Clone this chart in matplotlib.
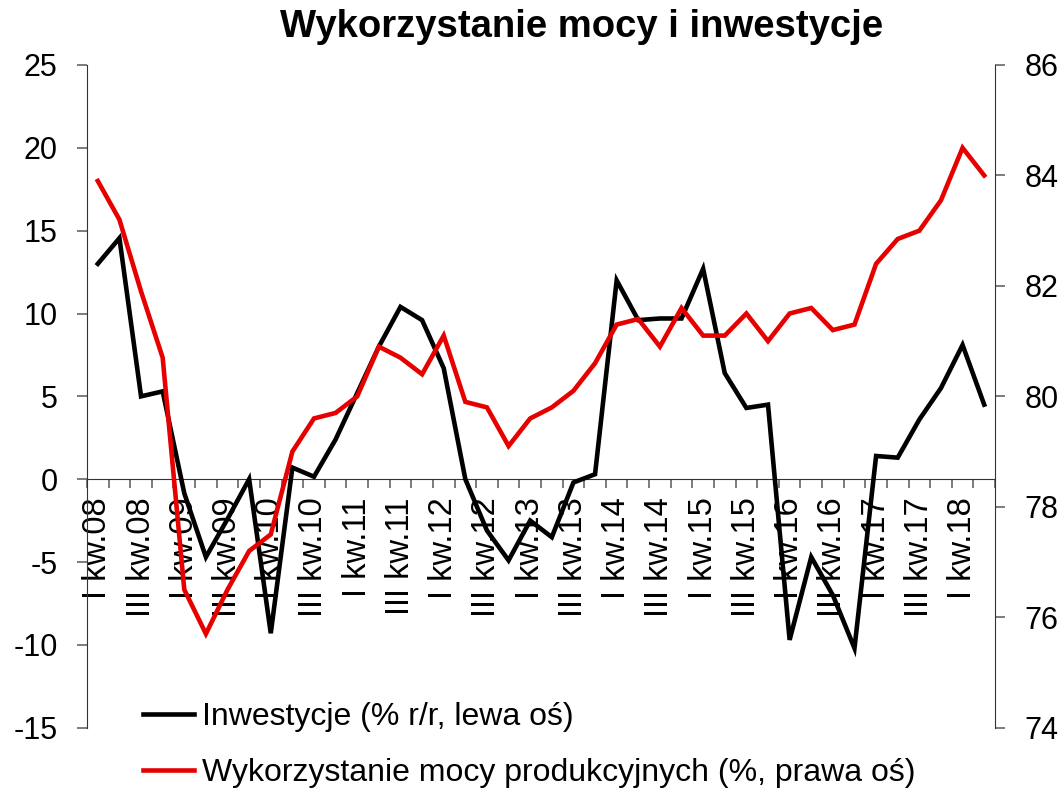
import matplotlib
matplotlib.use("Agg")
import matplotlib.pyplot as plt
import numpy as np

plt.rcParams['font.family'] = ['Liberation Sans', 'DejaVu Sans']

title = "Wykorzystanie mocy i inwestycje"

quarters = [
    "I kw.08", "II kw.08", "III kw.08", "IV kw.08",
    "I kw.09", "II kw.09", "III kw.09", "IV kw.09",
    "I kw.10", "II kw.10", "III kw.10", "IV kw.10",
    "I kw.11", "II kw.11", "III kw.11", "IV kw.11",
    "I kw.12", "II kw.12", "III kw.12", "IV kw.12",
    "I kw.13", "II kw.13", "III kw.13", "IV kw.13",
    "I kw.14", "II kw.14", "III kw.14", "IV kw.14",
    "I kw.15", "II kw.15", "III kw.15", "IV kw.15",
    "I kw.16", "II kw.16", "III kw.16", "IV kw.16",
    "I kw.17", "II kw.17", "III kw.17", "IV kw.17",
    "I kw.18", "II kw.18",
]

investment = [13.0, 14.55, 5.0, 5.3, -0.85, -4.7, -2.4, 0.0, -9.3, 0.7,
              0.15, 2.4, 5.2, 8.0, 10.4, 9.6, 6.7, 0.0, -3.1, -4.9,
              -2.5, -3.5, -0.2, 0.3, 12.0, 9.6, 9.7, 9.7, 12.7, 6.4,
              4.3, 4.5, -9.7, -4.7, -7.0, -10.2, 1.4, 1.3, 3.6, 5.5,
              8.1, 4.5]

capacity = [83.9, 83.2, 81.9, 80.7, 76.5, 75.7, 76.5, 77.2, 77.5, 79.0,
            79.6, 79.7, 80.0, 80.9, 80.7, 80.4, 81.1, 79.9, 79.8, 79.1,
            79.6, 79.8, 80.1, 80.6, 81.3, 81.4, 80.9, 81.6, 81.1, 81.1,
            81.5, 81.0, 81.5, 81.6, 81.2, 81.3, 82.4, 82.85, 83.0, 83.55,
            84.5, 84.0]

label_inv = "Inwestycje (% r/r, lewa oś)"
label_cap = "Wykorzystanie mocy produkcyjnych (%, prawa oś)"

left_ticks = [-15, -10, -5, 0, 5, 10, 15, 20, 25]
right_ticks = [74, 76, 78, 80, 82, 84, 86]

W, H = 1063, 791
fig = plt.figure(figsize=(W / 100, H / 100), dpi=100)
ax = fig.add_axes([87 / W, 1 - 727.7 / H, (995 - 87) / W, (727.7 - 65) / H])
ax2 = ax.twinx()

x = np.arange(len(quarters))
l1, = ax.plot(x, investment, color='black', lw=3.3, solid_joinstyle='miter', zorder=3)
l2, = ax2.plot(x, capacity, color='#E60000', lw=3.3, solid_joinstyle='miter', zorder=3)

ax.set_xlim(-0.5, len(quarters) - 0.5)
ax.set_ylim(-15, 25)
ax2.set_ylim(74, 86)
ax.set_yticks(left_ticks)
ax.set_yticklabels([str(v) for v in left_ticks])
ax2.set_yticks(right_ticks)
ax2.set_yticklabels([str(v) for v in right_ticks])

spine_col = '#333333'
tick_col = '#666666'

ax.spines['top'].set_visible(False)
ax.spines['right'].set_visible(False)
ax.spines['bottom'].set_position(('data', 0))
ax.spines['bottom'].set_color(spine_col)
ax.spines['left'].set_color(spine_col)
for s in ['top', 'left', 'bottom']:
    ax2.spines[s].set_visible(False)
ax2.spines['right'].set_color(spine_col)

# boundaries between categories as major ticks
ax.set_xticks(np.arange(-0.5, len(quarters), 1.0))
ax.set_xticklabels([])
ax.tick_params(axis='x', which='major', direction='out', length=6.5, width=1.2, color=tick_col)
# labels at category centers as minor ticks
shown = [q if (q.startswith("I ") or q.startswith("III ")) else "" for q in quarters]
ax.set_xticks(x, minor=True)
ax.set_xticklabels(shown, minor=True, rotation=90, fontsize=23.5)
ax.tick_params(axis='x', which='minor', length=0, pad=13)

ax.tick_params(axis='y', direction='out', length=7.2, width=1.2, color=tick_col,
               labelsize=22, pad=14)
ax2.tick_params(axis='y', direction='out', length=7.2, width=1.2, color=tick_col,
                labelsize=22, pad=14)

fig.text(582 / W, 1 - 27 / H, title, ha='center', va='center', fontsize=27.5,
         fontweight='bold')

fig.legend([l1, l2], [label_inv, label_cap], loc='upper left',
           bbox_to_anchor=(143 / W, 1 - 702 / H), frameon=False, fontsize=23,
           handlelength=1.6, handletextpad=0.25, borderaxespad=0, borderpad=0,
           labelspacing=0.82)

fig.savefig("out.png", dpi=100)
